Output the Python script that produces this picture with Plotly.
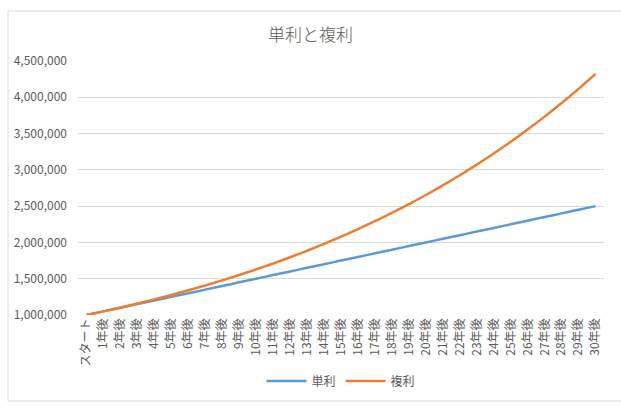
import plotly.graph_objects as go

# categories and values
years = ["スタート"] + [f"{i}年後" for i in range(1, 31)]
simple = [1000000, 1050000, 1100000, 1150000, 1200000, 1250000, 1300000, 1350000,
          1400000, 1450000, 1500000, 1550000, 1600000, 1650000, 1700000, 1750000,
          1800000, 1850000, 1900000, 1950000, 2000000, 2050000, 2100000, 2150000,
          2200000, 2250000, 2300000, 2350000, 2400000, 2450000, 2500000]
compound = [1000000, 1050000, 1102500, 1157625, 1215506, 1276282, 1340096, 1407100,
            1477455, 1551328, 1628895, 1710339, 1795856, 1885649, 1979932, 2078928,
            2182875, 2292018, 2406619, 2526950, 2653298, 2785963, 2925261, 3071524,
            3225100, 3386355, 3555673, 3733456, 3920129, 4116136, 4321942]

font = "Noto Sans CJK JP, Noto Sans, sans-serif"

fig = go.Figure()
fig.add_trace(go.Scatter(x=years, y=simple, name="単利", mode="lines",
                         line=dict(color="#5B9BD5", width=2.5, shape="spline")))
fig.add_trace(go.Scatter(x=years, y=compound, name="複利", mode="lines",
                         line=dict(color="#ED7D31", width=2.5, shape="spline")))

fig.update_layout(
    width=621, height=411,
    margin=dict(l=78, r=17, t=61, b=96, autoexpand=False),
    paper_bgcolor="white", plot_bgcolor="white",
    font=dict(family=font, color="#595959", size=12),
    title=dict(text="単利と複利", x=0.5, xanchor="center", y=0.915, yanchor="middle",
               font=dict(size=17, color="#595959", weight=300)),
    showlegend=True,
    legend=dict(orientation="h", x=0.5, xanchor="center", y=-0.26, yanchor="middle",
                font=dict(size=12, color="#595959"), itemwidth=40),
    xaxis=dict(type="category", range=[-0.5, 30.5], tickangle=-90, showgrid=False,
               ticks="", showline=False, automargin=False,
               tickfont=dict(size=12, color="#595959")),
    yaxis=dict(range=[1000000, 4500000], dtick=500000, tickformat=",d",
               showgrid=True, gridcolor="#d9d9d9", gridwidth=1, zeroline=False,
               showline=False, ticks="", ticklen=0, automargin=False,
               ticklabelstandoff=10,
               tickfont=dict(size=12, color="#595959")),
)

# outer chart border
fig.add_shape(type="rect", xref="paper", yref="paper",
              x0=-70 / 526, x1=610 / 526, y0=-86 / 254, y1=304 / 254,
              line=dict(color="#d9d9d9", width=1), fillcolor="rgba(0,0,0,0)",
              layer="below")

fig.write_html("out.html", config={"displayModeBar": False},
               post_script="document.body.style.margin='0';")
